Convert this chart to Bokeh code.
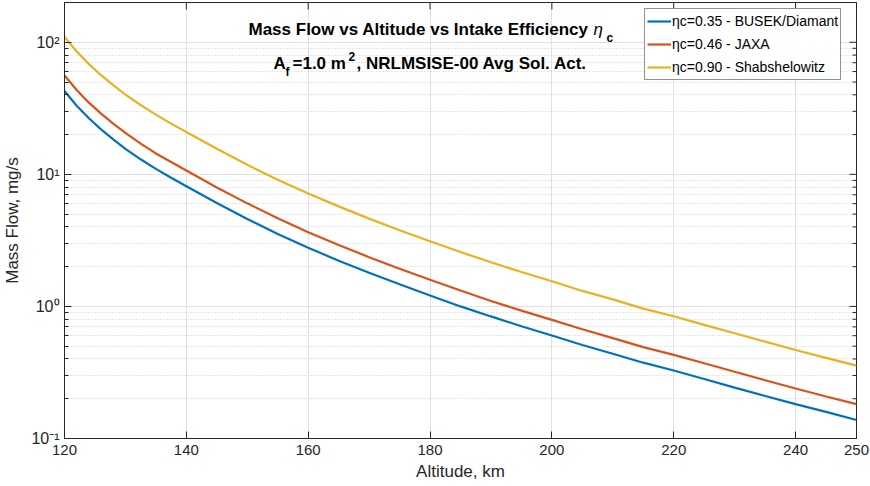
import math
from bokeh.plotting import figure
from bokeh.models import (Label, Legend, LegendItem, FixedTicker, ColumnDataSource, Range1d)
from bokeh.embed import file_html
from bokeh.resources import INLINE

# ---------------- data ----------------
altitude = [120, 122, 124, 126, 128, 130, 132.5, 135, 137.5, 140, 145, 150, 155, 160,
            165, 170, 175, 180, 185, 190, 195, 200, 205, 210, 215, 220, 225, 230,
            235, 240, 245, 250]
flow_busek = [42.7, 33.1, 26.6, 21.9, 18.4, 15.6, 13.0, 11.0, 9.42, 8.12, 6.06, 4.59,
              3.54, 2.78, 2.22, 1.80, 1.47, 1.21, 1.00, 0.84, 0.707, 0.602, 0.511,
              0.438, 0.375, 0.327, 0.282, 0.243, 0.210, 0.182, 0.159, 0.138]
flow_jaxa = [56.1, 43.5, 34.9, 28.8, 24.2, 20.6, 17.1, 14.4, 12.4, 10.7, 7.96, 6.03,
             4.65, 3.65, 2.92, 2.36, 1.93, 1.59, 1.32, 1.10, 0.929, 0.791, 0.672,
             0.575, 0.492, 0.430, 0.371, 0.320, 0.276, 0.239, 0.208, 0.182]
flow_shab = [109.7, 85.1, 68.3, 56.3, 47.3, 40.2, 33.5, 28.3, 24.2, 20.9, 15.6, 11.8,
             9.09, 7.15, 5.72, 4.62, 3.77, 3.11, 2.58, 2.16, 1.82, 1.55, 1.31, 1.13,
             0.963, 0.842, 0.725, 0.626, 0.541, 0.468, 0.408, 0.356]
series_labels = ["\u03b7c=0.35 - BUSEK/Diamant", "\u03b7c=0.46 - JAXA",
                 "\u03b7c=0.90 - Shabshelowitz"]
series_colors = ["#0072BD", "#D95319", "#EDB120"]

x_ticks = [120, 140, 160, 180, 200, 220, 240, 250]
y_ticks = [0.1, 1, 10, 100]
y_minor = [0.2, 0.3, 0.4, 0.5, 0.6, 0.7, 0.8, 0.9, 2, 3, 4, 5, 6, 7, 8, 9,
           20, 30, 40, 50, 60, 70, 80, 90, 200]
y_tick_labels = {0.1: "10\u207b\u00b9", 1: "10\u2070", 10: "10\u00b9", 100: "10\u00b2"}
x_min, x_max = 120, 250
y_min, y_max = 0.1, 200

FONT = "Liberation Sans"
AX = "#262626"

p = figure(width=870, height=486, output_backend="svg", toolbar_location=None,
           y_axis_type="log", x_range=Range1d(x_min, x_max), y_range=Range1d(y_min, y_max),
           min_border_left=64, min_border_right=14, min_border_top=2,
           min_border_bottom=48)
p.outline_line_color = AX
p.outline_line_width = 1
p.background_fill_color = "white"
p.border_fill_color = "white"

src = ColumnDataSource(dict(alt=altitude, busek=flow_busek, jaxa=flow_jaxa, shab=flow_shab))
renderers = []
for col, c in zip(["busek", "jaxa", "shab"], series_colors):
    renderers.append(p.line("alt", col, source=src, line_width=2.2, line_color=c))

# axes
xa = p.xaxis[0]
xa.ticker = FixedTicker(ticks=x_ticks)
xa.axis_label = "Altitude, km"
ya = p.yaxis[0]
ya.ticker = FixedTicker(ticks=y_ticks, minor_ticks=y_minor)
ya.major_label_overrides = y_tick_labels
ya.axis_label = "Mass Flow, mg/s"
for a in (xa, ya):
    a.axis_line_color = AX
    a.major_tick_line_color = AX
    a.minor_tick_line_color = AX
    a.major_tick_in = 7
    a.major_tick_out = 0
    a.major_label_text_font = FONT
    a.major_label_text_font_size = "15px"
    a.major_label_text_color = AX
    a.axis_label_text_font = FONT
    a.axis_label_text_font_size = "17px"
    a.axis_label_text_font_style = "normal"
    a.axis_label_text_color = AX
ya.major_label_text_font_size = "16px"
xa.minor_tick_in = 0
xa.minor_tick_out = 0
ya.minor_tick_in = 4
ya.minor_tick_out = 0
xa.major_label_standoff = 6
xa.axis_label_standoff = 4
ya.major_label_standoff = 5
ya.axis_label_standoff = 6

# inward tick marks on the top and right edges (markers clipped to the frame)
p.scatter(x=x_ticks, y=[y_max] * len(x_ticks), marker="dash", size=14,
          angle=math.pi / 2, line_color=AX, line_width=1)
p.scatter(x=[x_max] * len(y_ticks), y=y_ticks, marker="dash", size=14,
          line_color=AX, line_width=1)
p.scatter(x=[x_max] * len(y_minor), y=y_minor, marker="dash", size=8,
          line_color=AX, line_width=1)

# grids
p.xgrid.ticker = FixedTicker(ticks=x_ticks)
p.xgrid.grid_line_color = "#e1e1e1"
p.ygrid.grid_line_color = "#e1e1e1"
p.ygrid.minor_grid_line_color = "#cfcfcf"
p.ygrid.minor_grid_line_dash = "1 2"

# legend
legend = Legend(items=[LegendItem(label=l, renderers=[r]) for l, r in zip(series_labels, renderers)],
                location=(580, 358), padding=2, spacing=3, glyph_width=24, glyph_height=20,
                label_height=20, label_standoff=1, margin=0,
                label_text_font=FONT, label_text_font_size="14px", label_text_color="#000000",
                border_line_color=AX, border_line_width=1, background_fill_color="white",
                background_fill_alpha=1)
p.add_layout(legend)

# title (screen units relative to the frame: x = px-64, y = 438-py)
def lab(text, x, y, size, bold=True, style=None, align="left"):
    p.add_layout(Label(x=x, y=y, x_units="screen", y_units="screen", text=text,
                       text_font=FONT, text_font_size=size,
                       text_font_style=style or ("bold" if bold else "normal"),
                       text_color="#000000", text_align=align, text_baseline="alphabetic"))

lab("Mass Flow vs Altitude vs Intake Efficiency", 184, 409.5, "17px")
lab("\u03b7", 529, 409.5, "17px", style="italic")
lab("c", 542, 401, "12px")
lab("A", 209, 374.7, "17px")
lab("f", 221, 367, "12px")
lab("=1.0 m", 228, 374.7, "17px")
lab("2", 284, 382, "12px")
lab(", NRLMSISE-00 Avg Sol. Act.", 292, 374.7, "17px")

open("out.html", "w").write(file_html(p, INLINE))
